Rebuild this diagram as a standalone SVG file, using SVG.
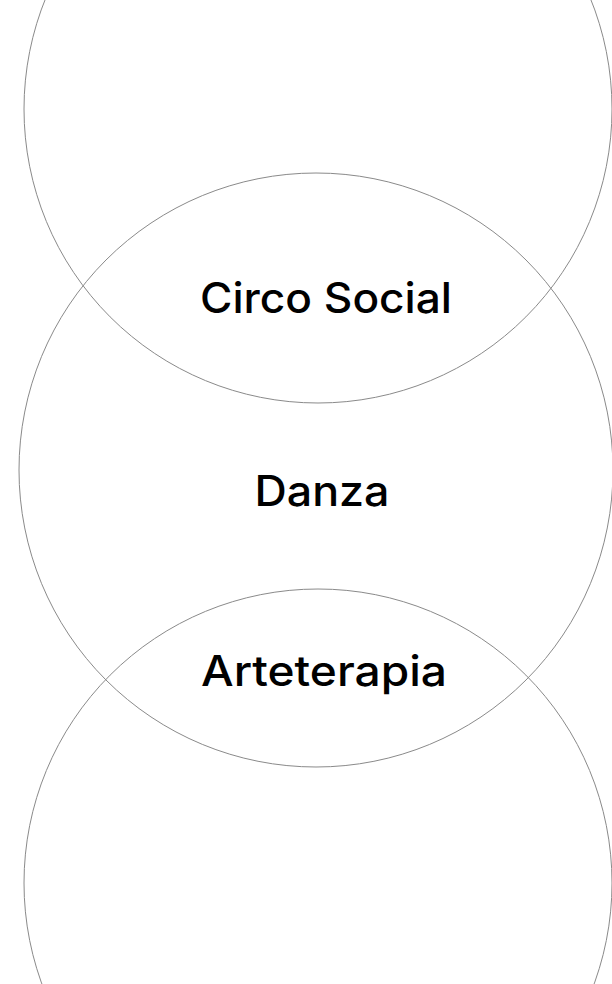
<svg xmlns="http://www.w3.org/2000/svg" width="612" height="984" viewBox="0 0 612 984">
<style>
.ring{fill:none;stroke:#8a8a8a;stroke-width:1}
.lbl{font-family:Inter,"Open Sans","Liberation Sans",sans-serif;font-weight:500;font-size:42px;fill:#000;text-anchor:middle}
</style>
<rect width="612" height="984" fill="#fff"/>
<g id="circle-top"><circle class="ring" cx="318" cy="109" r="294"/></g>
<g id="circle-middle"><circle class="ring" cx="316" cy="470" r="297"/></g>
<g id="circle-bottom"><circle class="ring" cx="318" cy="883" r="294"/></g>
<g id="label-circo"><text class="lbl" x="326" y="313" textLength="252" lengthAdjust="spacingAndGlyphs">Circo Social</text></g>
<g id="label-danza"><text class="lbl" x="322" y="506" textLength="135" lengthAdjust="spacingAndGlyphs">Danza</text></g>
<g id="label-arte"><text class="lbl" x="324" y="686" textLength="246" lengthAdjust="spacingAndGlyphs">Arteterapia</text></g>
<g id="connectors"></g>
</svg>
